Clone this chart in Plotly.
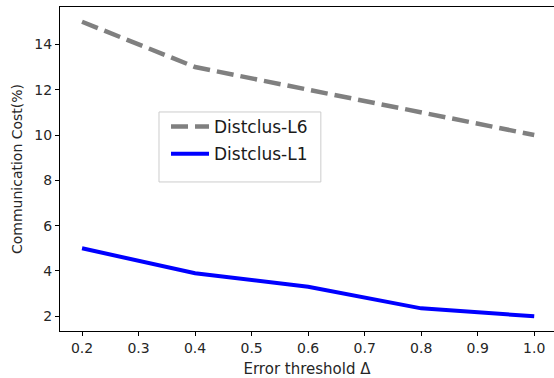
import plotly.graph_objects as go

# Error threshold values and communication cost (%) for each method
thresholds = [0.2, 0.4, 0.6, 0.8, 1.0]
cost_l6 = [15.0, 13.0, 12.0, 11.0, 10.0]
cost_l1 = [5.0, 3.9, 3.3, 2.35, 2.0]
x_ticks = [0.2, 0.3, 0.4, 0.5, 0.6, 0.7, 0.8, 0.9, 1.0]
y_ticks = [2, 4, 6, 8, 10, 12, 14]

FONT = "DejaVu Sans"

fig = go.Figure()
fig.add_trace(go.Scatter(
    x=thresholds, y=cost_l6, mode="lines", name="Distclus-L6", legendgroup="l6",
    line=dict(color="#808080", width=4.5, dash="17px,7px"),
))
fig.add_trace(go.Scatter(
    x=thresholds, y=cost_l1, mode="lines", name="Distclus-L1", legendgroup="l1",
    line=dict(color="#0000ff", width=4),
))

# framed box behind the legend entries
fig.add_shape(
    type="rect", xref="paper", yref="paper",
    x0=0.2004, x1=0.528, y0=0.46, y1=0.676,
    line=dict(color="#cccccc", width=1), fillcolor="white", layer="above",
)

fig.update_layout(
    width=554, height=378,
    margin=dict(l=60, r=0, t=7, b=47),
    paper_bgcolor="white", plot_bgcolor="white",
    font=dict(family=FONT, size=14, color="#262626"),
    showlegend=True,
    legend=dict(
        x=0.2146, y=0.685, xanchor="left", yanchor="top",
        bgcolor="rgba(0,0,0,0)", borderwidth=0,
        font=dict(family=FONT, size=17, color="#1a1a1a"),
        tracegroupgap=2, itemwidth=38,
    ),
    xaxis=dict(
        range=[0.161, 1.035], tickvals=x_ticks,
        ticktext=[f"{v:.1f}" for v in x_ticks],
        showgrid=False, zeroline=False,
        showline=True, linecolor="black", linewidth=1, mirror=True,
        ticks="outside", ticklen=4, tickcolor="black",
        title=dict(text="Error threshold Δ", font=dict(size=15), standoff=8),
    ),
    yaxis=dict(
        range=[1.35, 15.65], tickvals=y_ticks,
        showgrid=False, zeroline=False,
        showline=True, linecolor="black", linewidth=1, mirror=False,
        ticks="outside", ticklen=4, tickcolor="black",
        title=dict(text="Communication Cost(%)", font=dict(size=14), standoff=8),
    ),
)

fig.write_html("out.html")
